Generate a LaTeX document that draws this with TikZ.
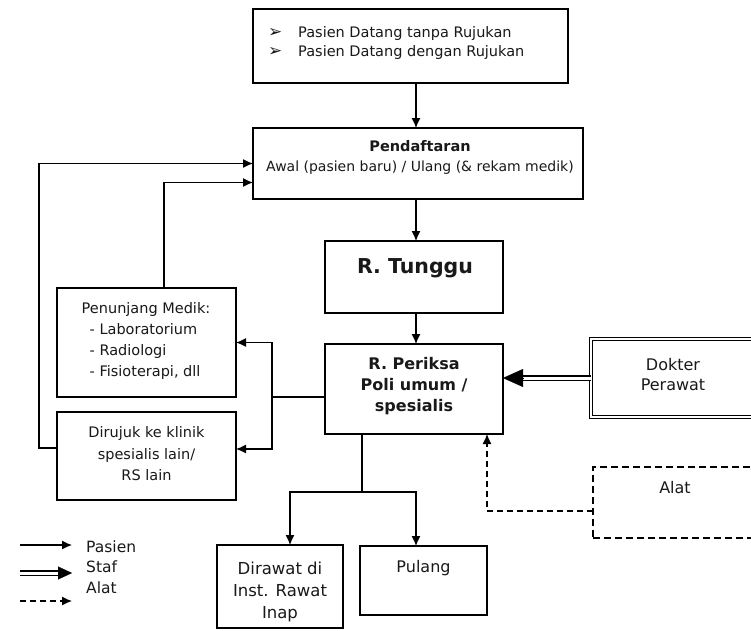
\documentclass[tikz,border=0pt]{standalone}
\usepackage{fontspec}
\setmainfont{DejaVu Sans}
\usetikzlibrary{arrows.meta}
\newcommand{\fs}[2]{\fontsize{#1}{#2}\selectfont}
\begin{document}
\begin{tikzpicture}[x=1pt,y=-1pt,
  box/.style={draw, line width=1.2pt, inner sep=0pt, outer sep=0pt},
  txt/.style={font=\fs{14.5}{21}, align=center, inner sep=0pt, text=black!90},
  link/.style={line width=1.2pt},
  pasien/.style={line width=1.2pt, -{Latex[length=10pt,width=9pt]}},
  alatline/.style={line width=1.2pt, dash pattern=on 6pt off 4pt, -{Latex[length=10pt,width=9pt]}},
  stafline/.style={double, double distance=3pt, line width=1.1pt},
  stafhead/.style={-{Triangle[length=20pt,width=18pt]}, line width=0.1pt},
  dashbox/.style={draw, line width=1.2pt, dash pattern=on 7pt off 4pt, inner sep=0pt, outer sep=0pt},
  dblbox/.style={draw, double, double distance=2.5pt, line width=1.1pt, inner sep=0pt, outer sep=0pt}]
\useasboundingbox (0,0) rectangle (751,630);
\clip (0,0) rectangle (751,630);
\fill[white] (0,0) rectangle (751,630);

% boxes
\node[box, minimum width=315pt, minimum height=74pt] (top) at (410.5,46) {};
\node[box, minimum width=330pt, minimum height=71pt] (pend) at (418,163.5) {};
\node[box, minimum width=178pt, minimum height=72pt] (tunggu) at (414,277) {};
\node[box, minimum width=178pt, minimum height=90pt] (periksa) at (414,389) {};
\node[box, minimum width=179pt, minimum height=109pt] (penunjang) at (146.5,342.5) {};
\node[box, minimum width=179pt, minimum height=88pt] (dirujuk) at (146.5,456) {};
\node[dblbox, minimum width=166pt, minimum height=78pt] (dokter) at (674,378) {};
\node[dashbox, minimum width=164pt, minimum height=71pt] (alat) at (675,502.5) {};
\node[box, minimum width=126pt, minimum height=83pt] (dirawat) at (280,586.5) {};
\node[box, minimum width=127pt, minimum height=69pt] (pulang) at (423.5,580.5) {};

% texts
\node[txt, anchor=west, align=left, font=\fs{14.5}{19}] (top-t) at (268,42.5)
  {\makebox[30pt][l]{\fs{17}{17}➢}Pasien Datang tanpa Rujukan\\
   \makebox[30pt][l]{\fs{17}{17}➢}Pasien Datang dengan Rujukan};
\node[txt, font=\fs{14}{20}] (pend-t) at (420,157)
  {{\fs{14.5}{20}\bfseries Pendaftaran}\\Awal (pasien baru) / Ulang (\& rekam medik)};
\node[txt, font=\bfseries\fs{20.5}{24}] (tunggu-t) at (415,268) {R. Tunggu};
\node[txt, font=\bfseries\fs{16}{21}] (periksa-t) at (414,386)
  {R. Periksa\\Poli umum /\\spesialis};
\node[txt, align=left] (penunjang-t) at (146,341)
  {Penunjang Medik:\\\hspace{8pt}- Laboratorium\\\hspace{8pt}- Radiologi\\\hspace{8pt}- Fisioterapi, dll};
\node[txt, font=\fs{14.5}{21.5}] (dirujuk-t) at (146.5,454) {Dirujuk ke klinik\\spesialis lain/\\RS lain};
\node[txt, font=\fs{16}{20}] (dokter-t) at (673,375) {Dokter\\Perawat};
\node[txt, font=\fs{16}{20}] (alat-t) at (675,488) {Alat};
\node[txt, font=\fs{16.5}{22}] (dirawat-t) at (280,592) {Dirawat di\\Inst. Rawat\\Inap};
\node[txt, font=\fs{16}{20}] (pulang-t) at (423.5,568) {Pulang};

% main patient flow
\coordinate (spine) at (416,0);
\draw[pasien] (top.south -| spine) -- (pend.north -| spine);
\draw[pasien] (pend.south -| spine) -- (tunggu.north -| spine);
\draw[pasien] (tunggu.south -| spine) -- (periksa.north -| spine);

% referrals to the left
\coordinate (br) at (272,397);
\draw[link] (periksa.west |- br) -- (br);
\draw[pasien] (br) |- (penunjang.east);
\draw[pasien] (br) |- ([yshift=7pt]dirujuk.east);

% return loops to registration
\draw[pasien] ([yshift=8pt]dirujuk.west) -- ++(-18,0) |- (pend.west);
\draw[pasien] ([xshift=17.5pt]penunjang.north) |- ([yshift=-19pt]pend.west);

% staff and equipment
\coordinate (sh) at ([xshift=20pt]periksa.east |- dokter.west);
\draw[stafline] (dokter.west) -- (sh);
\draw[stafhead] (sh) -- (periksa.east |- dokter.west);
\draw[alatline] ([yshift=-8.5pt]alat.west) -| ([xshift=73pt]periksa.south);

% exits
\coordinate (split) at (362,492);
\draw[link] ([xshift=-52pt]periksa.south) -- (split);
\draw[pasien] (split) -| ([xshift=10pt]dirawat.north);
\draw[pasien] (split) -| ([xshift=-7.5pt]pulang.north);

% legend
\coordinate (l1a) at (20,545); \coordinate (l1b) at (72,545);
\coordinate (l2a) at (20,573); \coordinate (l2m) at (58,573); \coordinate (l2b) at (72,573);
\coordinate (l3a) at (20,601); \coordinate (l3b) at (72,601);
\draw[pasien] (l1a) -- (l1b);
\draw[stafline] (l2a) -- (l2m);
\draw[-{Triangle[length=14pt,width=13pt]}, line width=0.1pt] (l2m) -- (l2b);
\draw[alatline] (l3a) -- (l3b);
\node[txt, anchor=west, align=left, font=\fs{15.5}{20.5}] (legend-t) at (86,567)
  {Pasien\\Staf\\Alat};
\end{tikzpicture}
\end{document}
